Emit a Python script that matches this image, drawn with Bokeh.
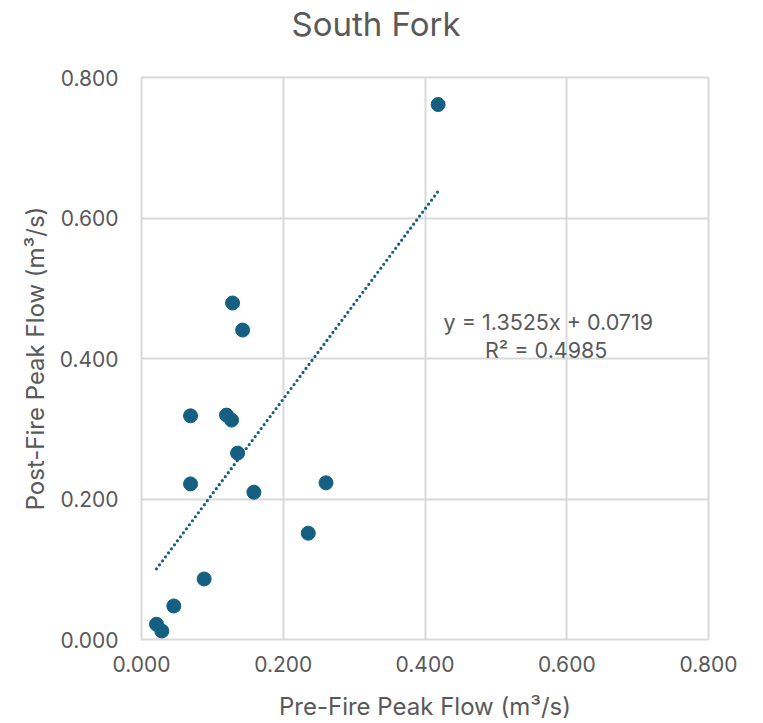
from bokeh.plotting import figure
from bokeh.models import FixedTicker, NumeralTickFormatter, Label, ColumnDataSource, Title
from bokeh.embed import file_html
from bokeh.resources import INLINE

# Data
pre_fire = [0.4185, 0.1285, 0.1427, 0.0692, 0.1200, 0.1271, 0.1356, 0.0692,
            0.1586, 0.2603, 0.2353, 0.0884, 0.0456, 0.0212, 0.0287]
post_fire = [0.7615, 0.4790, 0.4405, 0.3184, 0.3194, 0.3123, 0.2653, 0.2215,
             0.2097, 0.2230, 0.1513, 0.0862, 0.0477, 0.0217, 0.0121]
slope = 1.3525
intercept = 0.0719
r_squared = 0.4985
ticks = [0.0, 0.2, 0.4, 0.6, 0.8]
title_text = "South Fork"
x_title = "Pre-Fire Peak Flow (m³/s)"
y_title = "Post-Fire Peak Flow (m³/s)"

FONT = "Inter"
TXT = "#595959"
GRID = "#d9d9d9"
MARK = "#156082"

p = figure(width=755, height=723, x_range=(0, 0.8), y_range=(0, 0.8),
           title=None, output_backend="svg", toolbar_location=None,
           min_border_left=141, min_border_right=47,
           min_border_top=77, min_border_bottom=84)

# spacer between frame and title, then the real title
spacer = Title(text=" ", text_font_size="1px", standoff=31)
main_title = Title(text=title_text, align="left", offset=150, standoff=0,
                   text_font=FONT, text_font_size="33px",
                   text_font_style="normal", text_color=TXT)
p.add_layout(spacer, "above")
p.add_layout(main_title, "above")

p.outline_line_color = GRID
p.outline_line_width = 2
p.background_fill_color = "white"
p.border_fill_color = "white"

for ax in (p.xaxis[0], p.yaxis[0]):
    ax.ticker = FixedTicker(ticks=ticks)
    ax.formatter = NumeralTickFormatter(format="0.000")
    ax.axis_line_color = None
    ax.major_tick_line_color = None
    ax.minor_tick_line_color = None
    ax.major_tick_in = 0
    ax.major_tick_out = 0
    ax.major_label_text_font = FONT
    ax.major_label_text_font_size = "21px"
    ax.major_label_text_color = TXT
    ax.axis_label_text_font = FONT
    ax.axis_label_text_font_size = "24px"
    ax.axis_label_text_font_style = "normal"
    ax.axis_label_text_color = TXT

p.xaxis[0].axis_label = x_title
p.yaxis[0].axis_label = y_title
p.xaxis[0].major_label_standoff = 16
p.xaxis[0].axis_label_standoff = 17
p.yaxis[0].major_label_standoff = 23
p.yaxis[0].axis_label_standoff = 7

for g in (p.xgrid[0], p.ygrid[0]):
    g.ticker = FixedTicker(ticks=ticks)
    g.grid_line_color = GRID
    g.grid_line_width = 2

# Trendline from the fitted equation over the data's x extent
x0, x1 = min(pre_fire), max(pre_fire)
p.line([x0, x1], [slope * x0 + intercept, slope * x1 + intercept],
       line_color=MARK, line_width=3.2, line_dash="0 5", line_cap="round")

src = ColumnDataSource(dict(x=pre_fire, y=post_fire))
p.scatter("x", "y", source=src, size=14, fill_color=MARK, line_color=MARK)

eq = Label(x=0.574, y=0.452, text=f"y = {slope:.4f}x + {intercept:.4f}",
           text_font=FONT, text_font_size="21.5px", text_color=TXT,
           text_align="center", text_baseline="middle")
r2 = Label(x=0.571, y=0.412, text=f"R² = {r_squared:.4f}",
           text_font=FONT, text_font_size="21.5px", text_color=TXT,
           text_align="center", text_baseline="middle")
p.add_layout(eq)
p.add_layout(r2)

open("out.html", "w").write(file_html(p, INLINE))
